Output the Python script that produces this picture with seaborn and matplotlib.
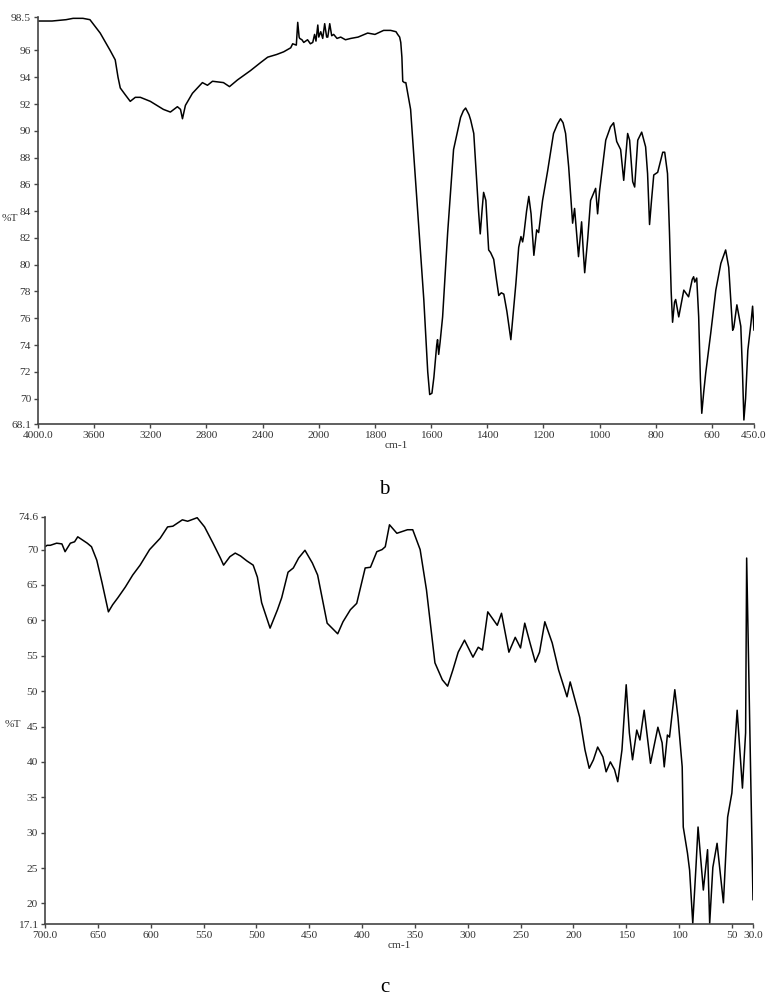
import numpy as np
import pandas as pd
import seaborn as sns
import matplotlib
matplotlib.use("Agg")
import matplotlib.pyplot as plt

# panel b: mid-IR spectrum (cm-1, %T)
ir_wn = [3997, 3900, 3800, 3750, 3680, 3630, 3557, 3486, 3450, 3430, 3414, 3379,
         3343, 3307, 3271, 3200, 3107, 3057, 3007, 2985, 2971, 2950, 2900, 2829,
         2793, 2757, 2679, 2636, 2579, 2486, 2414, 2364, 2300, 2250, 2200, 2186,
         2160, 2150, 2140, 2136, 2120, 2107, 2080, 2060, 2043, 2030, 2020, 2007,
         2000, 1993, 1986, 1979, 1972, 1968, 1961, 1954, 1947, 1935, 1922, 1905,
         1886, 1860, 1826, 1800, 1769, 1744, 1725, 1719, 1712, 1708, 1704, 1701,
         1695, 1690, 1673, 1648, 1626, 1612, 1605, 1597, 1590, 1580, 1577, 1573,
         1568, 1559, 1541, 1520, 1495, 1485, 1477, 1465, 1459, 1448, 1431, 1425,
         1418, 1413, 1405, 1395, 1388, 1377, 1368, 1359, 1350, 1341, 1330, 1316,
         1298, 1288, 1280, 1274, 1270, 1260, 1252, 1244, 1234, 1224, 1217, 1203,
         1185, 1164, 1150, 1139, 1130, 1121, 1110, 1096, 1089, 1082, 1075, 1064,
         1058, 1053, 1042, 1032, 1014, 1007, 1000, 978, 961, 950, 939, 925, 914,
         905, 900, 893, 882, 875, 864, 850, 836, 829, 822, 815, 807, 793, 775,
         768, 758, 751, 745, 740, 733, 729, 718, 710, 700, 683, 670, 665, 661,
         654, 647, 641, 636, 629, 622, 604, 586, 568, 551, 540, 526, 522, 511,
         504, 497, 491, 486, 480, 472, 461, 455, 450]
ir_t = [98.2, 98.2, 98.3, 98.4, 98.4, 98.3, 97.3, 96.0, 95.3, 94.0, 93.2, 92.7,
        92.2, 92.5, 92.5, 92.2, 91.6, 91.4, 91.8, 91.6, 90.9, 91.9, 92.8, 93.6,
        93.4, 93.7, 93.6, 93.3, 93.8, 94.5, 95.1, 95.5, 95.7, 95.9, 96.2, 96.5,
        96.4, 98.1, 97.0, 96.9, 96.8, 96.6, 96.8, 96.5, 96.6, 97.2, 96.7, 97.9,
        97.0, 97.4, 96.9, 98.0, 97.0, 97.0, 98.0, 97.1, 97.2, 96.9, 97.0, 96.8,
        96.9, 97.0, 97.3, 97.2, 97.5, 97.5, 97.4, 97.2, 97.0, 96.6, 95.5, 93.7,
        93.6, 93.6, 91.6, 84.0, 77.4, 72.0, 70.3, 70.4, 71.6, 74.0, 74.4, 73.3,
        74.2, 76.1, 82.4, 88.6, 91.0, 91.5, 91.7, 91.2, 90.8, 89.8, 84.0, 82.3,
        84.2, 85.4, 84.8, 81.1, 80.9, 80.4, 79.0, 77.7, 77.9, 77.8, 76.5, 74.4,
        78.6, 81.3, 82.1, 81.7, 82.2, 84.0, 85.1, 83.8, 80.7, 82.6, 82.4, 84.8,
        87.0, 89.8, 90.5, 90.9, 90.6, 89.8, 87.3, 83.1, 84.2, 82.4, 80.6, 83.2,
        81.0, 79.4, 82.0, 84.8, 85.7, 83.8, 85.5, 89.3, 90.3, 90.6, 89.2, 88.6,
        86.3, 88.6, 89.8, 89.3, 86.2, 85.8, 89.3, 89.9, 88.8, 86.8, 83.0, 84.8,
        86.7, 86.9, 88.4, 88.4, 86.8, 82.4, 78.0, 75.7, 77.2, 77.4, 76.1, 77.0,
        78.1, 77.6, 78.9, 79.1, 78.7, 79.0, 76.1, 71.5, 68.9, 70.5, 71.9, 74.9,
        78.1, 80.1, 81.1, 79.8, 75.1, 75.3, 77.0, 76.2, 75.4, 72.0, 68.4, 70.0,
        73.6, 75.6, 76.9, 75.1]

# panel c: far-IR spectrum
fir_wn = [700, 698, 695, 689, 684, 681, 676, 672, 669, 665, 660, 656, 651, 646,
          640, 636, 631, 624, 617, 610, 601, 591, 584, 579, 570, 565, 556, 549,
          541, 534, 531, 525, 520, 515, 509, 503, 499, 495, 487, 480, 476, 470,
          465, 460, 454, 447, 442, 433, 423, 418, 411, 405, 397, 392, 386, 381,
          378, 374, 367, 361, 357, 352, 345, 339, 331, 324, 319, 314, 309, 303,
          295, 290, 286, 281, 272, 268, 261, 255, 250, 246, 241, 236, 232, 227,
          220, 214, 210, 206, 203, 198, 194, 189, 185, 181, 177, 172, 169, 165,
          161, 158, 154, 150, 147, 144, 140, 137, 133, 127, 120, 116, 114, 111,
          109, 104, 101, 97, 96, 92, 90, 87, 84, 82, 77, 73, 71, 68, 64, 58, 54,
          50, 45, 40, 37, 36, 33, 30]
fir_t = [70.4, 70.6, 70.6, 70.9, 70.8, 69.7, 70.9, 71.1, 71.8, 71.4, 70.9, 70.4,
         68.5, 65.3, 61.2, 62.2, 63.2, 64.7, 66.4, 67.8, 70.0, 71.6, 73.2, 73.3,
         74.2, 74.0, 74.5, 73.2, 70.9, 68.8, 67.8, 69.0, 69.5, 69.1, 68.4, 67.8,
         66.1, 62.5, 58.9, 61.5, 63.2, 66.8, 67.4, 68.8, 69.9, 68.1, 66.4, 59.6,
         58.1, 59.8, 61.5, 62.4, 67.4, 67.5, 69.7, 70.0, 70.4, 73.5, 72.3, 72.6,
         72.8, 72.8, 70.0, 64.3, 54.0, 51.6, 50.7, 53.0, 55.5, 57.2, 54.8, 56.2,
         55.8, 61.2, 59.3, 61.0, 55.5, 57.6, 56.1, 59.6, 56.8, 54.1, 55.5, 59.8,
         56.8, 53.0, 51.1, 49.2, 51.3, 48.5, 46.3, 41.7, 39.1, 40.3, 42.1, 40.7,
         38.6, 40.0, 38.9, 37.2, 41.7, 50.9, 44.1, 40.3, 44.5, 43.1, 47.3, 39.8,
         44.9, 42.7, 39.3, 43.8, 43.5, 50.2, 46.3, 39.3, 30.8, 27.1, 24.7, 17.2,
         25.1, 30.8, 21.9, 27.6, 17.2, 25.1, 28.5, 20.1, 32.2, 35.6, 47.3, 36.3,
         44.1, 68.8, 45.0, 20.5]

ir_xticks = [4000, 3600, 3200, 2800, 2400, 2000, 1800, 1600, 1400, 1200, 1000, 800, 600, 450]
ir_xlabels = ["4000.0", "3600", "3200", "2800", "2400", "2000", "1800", "1600",
              "1400", "1200", "1000", "800", "600", "450.0"]
ir_yticks = [68.1, 70, 72, 74, 76, 78, 80, 82, 84, 86, 88, 90, 92, 94, 96, 98.5]
ir_ylabels = ["68.1", "70", "72", "74", "76", "78", "80", "82", "84", "86", "88",
              "90", "92", "94", "96", "98.5"]

fir_xticks = [700, 650, 600, 550, 500, 450, 400, 350, 300, 250, 200, 150, 100, 50, 30]
fir_xlabels = ["700.0", "650", "600", "550", "500", "450", "400", "350", "300",
               "250", "200", "150", "100", "50", "30.0"]
fir_yticks = [17.1, 20, 25, 30, 35, 40, 45, 50, 55, 60, 65, 70, 74.6]
fir_ylabels = ["17.1", "20", "25", "30", "35", "40", "45", "50", "55", "60", "65",
               "70", "74.6"]

sns.set_style("ticks")
plt.rcParams['font.family'] = ['Liberation Serif', 'DejaVu Serif']

axis_col = "#444444"
text_col = "#333333"
tick_font = 8.2


# the instrument halves the scale above 2000 cm-1
def fwd(x):
    x = np.asarray(x, dtype=float)
    return np.where(x > 2000, 2000 + (x - 2000) / 2, x)


def inv(u):
    u = np.asarray(u, dtype=float)
    return np.where(u > 2000, 2000 + (u - 2000) * 2, u)


def style_axes(ax, xticks, xlabels, yticks, ylabels, ylab_xy):
    sns.despine(ax=ax)
    for s in ['left', 'bottom']:
        ax.spines[s].set_color(axis_col)
        ax.spines[s].set_linewidth(1.2)
    ax.set_xticks(xticks)
    ax.set_xticklabels(xlabels)
    ax.set_yticks(yticks)
    ax.set_yticklabels(ylabels)
    ax.tick_params(axis='both', labelsize=tick_font, labelcolor=text_col,
                   color=axis_col, length=3, width=1, pad=2)
    ax.set_xlabel("cm-1", fontsize=tick_font, color=text_col, labelpad=1)
    ax.set_ylabel("%T", fontsize=tick_font, color=text_col, rotation=0,
                  ha='center', va='center')
    ax.yaxis.set_label_coords(*ylab_xy)


fig = plt.figure(figsize=(7.74, 10), dpi=100)

ax1 = fig.add_axes([38 / 774, 0.576, 716 / 774, 0.407])
df1 = pd.DataFrame({"wn": ir_wn, "T": ir_t})
sns.lineplot(data=df1, x="wn", y="T", ax=ax1, color="black", linewidth=1.1,
             sort=False, estimator=None)
ax1.set_xscale('function', functions=(fwd, inv))
ax1.set_xlim(4000, 450)
ax1.set_ylim(68.1, 98.5)
style_axes(ax1, ir_xticks, ir_xlabels, ir_yticks, ir_ylabels, (-0.039, 0.505))

ax2 = fig.add_axes([45 / 774, 0.076, 708 / 774, 0.407])
df2 = pd.DataFrame({"wn": fir_wn, "T": fir_t})
sns.lineplot(data=df2, x="wn", y="T", ax=ax2, color="black", linewidth=1.1,
             sort=False, estimator=None)
ax2.set_xlim(700, 30)
ax2.set_ylim(17.1, 74.6)
style_axes(ax2, fir_xticks, fir_xlabels, fir_yticks, fir_ylabels, (-0.045, 0.49))

fig.text(0.497, 0.51, "b", fontsize=15, ha='center', va='center', color='black')
fig.text(0.497, 0.012, "c", fontsize=15, ha='center', va='center', color='black')

fig.savefig("out.png", dpi=100)
